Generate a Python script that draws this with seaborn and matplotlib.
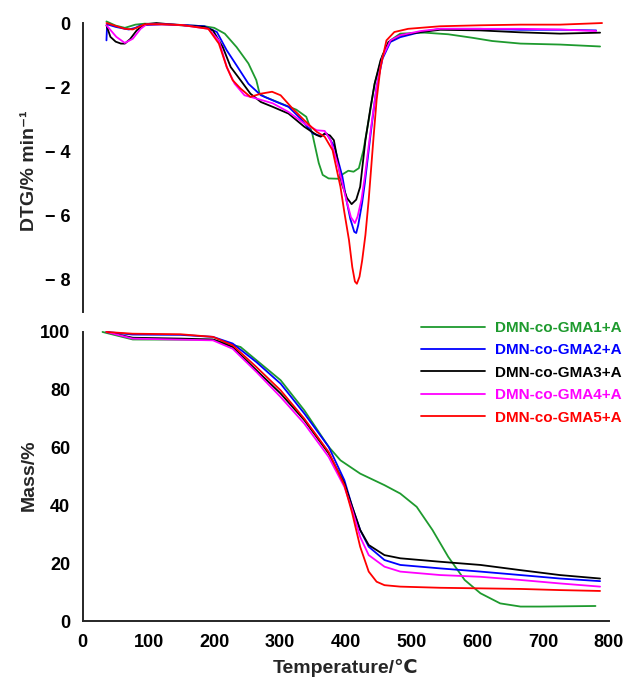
import numpy as np
import pandas as pd
import seaborn as sns
import matplotlib.pyplot as plt
from matplotlib.ticker import MultipleLocator, FixedLocator, FixedFormatter
from matplotlib.lines import Line2D

# ---------------- data ----------------
names = ["DMN-co-GMA1+A", "DMN-co-GMA2+A", "DMN-co-GMA3+A", "DMN-co-GMA4+A", "DMN-co-GMA5+A"]
colors = ["#1e9a2e", "#0000ff", "#000000", "#ff00ff", "#ff0000"]

# DTG (top panel)
dtg_t1 = [36, 50, 64, 80, 94, 120, 150, 185, 200, 216, 234, 252, 264, 269, 277, 301, 325, 340, 349, 359, 365, 374, 389, 396, 404, 412, 420, 427, 435, 444, 456, 468, 483, 520, 556, 593, 623, 666, 726, 787]
dtg_v1 = [0.05, -0.08, -0.15, -0.05, -0.02, -0.03, -0.06, -0.1, -0.15, -0.33, -0.75, -1.26, -1.78, -2.2, -2.3, -2.5, -2.7, -2.92, -3.43, -4.36, -4.73, -4.84, -4.85, -4.7, -4.6, -4.63, -4.52, -3.96, -3.02, -1.89, -1.0, -0.54, -0.33, -0.3, -0.35, -0.46, -0.56, -0.64, -0.67, -0.73]

dtg_t2 = [36, 37, 50, 64, 70, 80, 88, 120, 150, 185, 204, 219, 234, 252, 271, 295, 313, 331, 350, 362, 371, 383, 395, 401, 407, 413, 416, 419, 425, 429, 438, 447, 456, 468, 483, 514, 544, 605, 666, 726, 781]
dtg_v2 = [-0.54, -0.04, -0.12, -0.18, -0.2, -0.15, -0.07, -0.04, -0.06, -0.1, -0.28, -0.85, -1.32, -1.89, -2.25, -2.46, -2.61, -2.97, -3.44, -3.52, -3.44, -3.86, -4.79, -5.5, -6.1, -6.5, -6.54, -6.3, -5.6, -5.0, -3.44, -1.99, -1.11, -0.59, -0.44, -0.28, -0.18, -0.18, -0.21, -0.21, -0.23]

dtg_t3 = [36, 42, 50, 58, 64, 72, 82, 94, 112, 149, 185, 198, 213, 225, 240, 255, 271, 289, 313, 337, 356, 362, 368, 376, 382, 387, 394, 402, 409, 416, 422, 430, 438, 444, 453, 465, 483, 514, 544, 605, 666, 726, 787]
dtg_v3 = [-0.07, -0.43, -0.58, -0.64, -0.64, -0.5, -0.23, -0.04, 0.0, -0.07, -0.12, -0.23, -0.75, -1.37, -1.78, -2.2, -2.46, -2.61, -2.82, -3.23, -3.49, -3.54, -3.44, -3.5, -3.65, -4.2, -5.0, -5.45, -5.64, -5.5, -5.1, -3.65, -2.6, -1.89, -1.16, -0.59, -0.38, -0.28, -0.21, -0.23, -0.29, -0.33, -0.30]

dtg_t4 = [36, 51, 64, 76, 88, 97, 120, 150, 191, 207, 219, 231, 246, 264, 289, 313, 337, 356, 368, 377, 389, 395, 401, 408, 414, 418, 424, 429, 438, 447, 456, 468, 483, 514, 544, 605, 666, 726, 781]
dtg_v4 = [-0.07, -0.43, -0.62, -0.49, -0.18, -0.04, -0.04, -0.06, -0.18, -0.54, -1.37, -1.89, -2.25, -2.35, -2.5, -2.77, -3.13, -3.34, -3.36, -3.65, -4.48, -5.0, -5.51, -6.05, -6.23, -6.03, -5.5, -4.79, -3.34, -1.99, -1.06, -0.54, -0.38, -0.25, -0.18, -0.18, -0.18, -0.2, -0.25]

dtg_t5 = [36, 64, 76, 94, 120, 150, 191, 207, 219, 228, 240, 255, 271, 288, 301, 319, 337, 356, 368, 380, 392, 398, 405, 410, 414, 417, 421, 425, 430, 435, 442, 447, 453, 462, 474, 495, 544, 605, 666, 726, 790]
dtg_v5 = [0.0, -0.18, -0.2, -0.04, -0.04, -0.06, -0.18, -0.64, -1.37, -1.78, -2.04, -2.3, -2.2, -2.14, -2.25, -2.66, -3.03, -3.39, -3.54, -3.96, -5.1, -5.9, -6.76, -7.6, -8.05, -8.12, -7.9, -7.4, -6.6, -5.5, -3.65, -2.4, -1.37, -0.54, -0.28, -0.18, -0.1, -0.07, -0.05, -0.05, 0.0]

# Mass (bottom panel)
tg_t1 = [30, 76, 198, 240, 301, 337, 374, 392, 422, 459, 483, 508, 532, 556, 581, 605, 635, 666, 696, 780]
tg_m1 = [100, 97.4, 97.3, 94.8, 83.3, 72.9, 60.3, 55.6, 51.0, 47.0, 44.1, 39.5, 31.5, 22.2, 14.2, 9.6, 6.1, 5.0, 5.0, 5.2]

tg_t2 = [36, 76, 149, 198, 228, 264, 301, 337, 374, 398, 410, 422, 435, 459, 483, 544, 605, 666, 726, 787]
tg_m2 = [100, 99.1, 99.0, 98.3, 96.0, 89.6, 82.1, 71.8, 60.3, 48.7, 39.5, 31.5, 25.7, 21.1, 19.4, 18.2, 17.1, 15.9, 14.7, 13.8]

tg_t3 = [36, 76, 149, 198, 228, 264, 301, 337, 374, 398, 410, 422, 435, 459, 483, 544, 605, 666, 726, 787]
tg_m3 = [100, 98.0, 97.7, 97.4, 94.8, 86.8, 78.7, 69.5, 58.0, 47.6, 39.5, 31.5, 26.3, 22.8, 21.7, 20.5, 19.4, 17.6, 15.9, 14.7]

tg_t4 = [36, 76, 198, 228, 264, 301, 337, 374, 398, 410, 422, 435, 459, 483, 544, 605, 666, 726, 787]
tg_m4 = [100, 97.7, 97.1, 94.2, 86.2, 77.5, 68.3, 56.8, 46.4, 38.4, 29.1, 22.8, 18.8, 17.1, 15.9, 15.3, 14.2, 13.0, 11.9]

tg_t5 = [36, 76, 149, 198, 228, 264, 301, 337, 374, 398, 410, 422, 435, 447, 459, 483, 544, 605, 666, 726, 787]
tg_m5 = [100, 99.4, 99.2, 98.3, 95.4, 87.9, 79.8, 70.0, 58.5, 47.0, 37.2, 25.7, 17.1, 13.6, 12.4, 11.9, 11.5, 11.3, 11.1, 10.7, 10.4]

dtg_ticks = [0, -2, -4, -6, -8]
dtg_ticklabels = ["0", "\u2212 2", "\u2212 4", "\u2212 6", "\u2212 8"]
mass_ticks = [0, 20, 40, 60, 80, 100]
temp_ticks = [0, 100, 200, 300, 400, 500, 600, 700, 800]

# ---------------- build frames ----------------
dtg_sets = [(dtg_t1, dtg_v1), (dtg_t2, dtg_v2), (dtg_t3, dtg_v3), (dtg_t4, dtg_v4), (dtg_t5, dtg_v5)]
tg_sets = [(tg_t1, tg_m1), (tg_t2, tg_m2), (tg_t3, tg_m3), (tg_t4, tg_m4), (tg_t5, tg_m5)]
dtg_df = pd.concat([pd.DataFrame({"T": t, "v": v, "s": n}) for (t, v), n in zip(dtg_sets, names)])
tg_df = pd.concat([pd.DataFrame({"T": t, "v": v, "s": n}) for (t, v), n in zip(tg_sets, names)])

# ---------------- style ----------------
sns.set_theme(style="white")
plt.rcParams["font.family"] = ["Liberation Sans", "DejaVu Sans"]
plt.rcParams["font.weight"] = "bold"
plt.rcParams["axes.labelweight"] = "bold"

fig = plt.figure(figsize=(6.32, 6.85), dpi=100)
ax1 = fig.add_axes([0.131, 0.5445, 0.832, 0.4289])
ax2 = fig.add_axes([0.131, 0.0934, 0.832, 0.4262])

pal = dict(zip(names, colors))
sns.lineplot(data=dtg_df, x="T", y="v", hue="s", hue_order=names, palette=pal,
             estimator=None, sort=False, lw=1.3, ax=ax1, legend=False)
sns.lineplot(data=tg_df, x="T", y="v", hue="s", hue_order=names, palette=pal,
             estimator=None, sort=False, lw=1.3, ax=ax2, legend=False)

lw_sp = 1.4
for ax in (ax1, ax2):
    ax.set_xlim(0, 800)
    ax.spines["top"].set_visible(False)
    ax.spines["right"].set_visible(False)
    ax.spines["left"].set_linewidth(lw_sp)
    ax.spines["bottom"].set_linewidth(lw_sp)
    ax.tick_params(which="major", direction="out", length=6, width=lw_sp,
                   labelsize=13, pad=3, colors="black")
    ax.tick_params(which="minor", direction="out", length=3.5, width=lw_sp)

# top panel
ax1.spines["bottom"].set_visible(False)
ax1.set_ylim(-9, 0.15)
ax1.spines["left"].set_bounds(-9, 0)
ax1.yaxis.set_major_locator(FixedLocator(dtg_ticks))
ax1.yaxis.set_major_formatter(FixedFormatter(dtg_ticklabels))
ax1.yaxis.set_minor_locator(FixedLocator([-1, -3, -5, -7, -9]))
ax1.set_xticks([])
ax1.set_xlabel("")
ax1.set_ylabel("DTG/% min\u207b\u00b9", fontsize=14, fontweight="bold")
ax1.yaxis.set_label_coords(-0.085, 0.48)
for lbl in ax1.get_yticklabels():
    lbl.set_fontweight("bold")
    lbl.set_fontsize(13)

# bottom panel
ax2.set_ylim(0, 101)
ax2.spines["left"].set_bounds(0, 100)
ax2.spines["bottom"].set_bounds(0, 800)
ax2.set_yticks(mass_ticks)
ax2.set_xticks(temp_ticks)
ax2.xaxis.set_minor_locator(MultipleLocator(50))
ax2.set_xticklabels([str(t) for t in temp_ticks], fontweight="bold", fontsize=13)
ax2.set_yticklabels([str(t) for t in mass_ticks], fontweight="bold", fontsize=13)
ax2.set_xlabel("Temperature/\u2103", fontsize=14, fontweight="bold", labelpad=6)
ax2.set_ylabel("Mass/%", fontsize=14, fontweight="bold")
ax2.yaxis.set_label_coords(-0.085, 0.5)

handles = [Line2D([], [], color=c, lw=1.3) for c in colors]
leg = fig.legend(handles, names, loc="upper right", bbox_to_anchor=(622 / 632, (685 - 321) / 685),
                 frameon=False, fontsize=11, handlelength=4.2, handletextpad=0.7,
                 labelspacing=0.55, borderpad=0, borderaxespad=0)
for txt, c in zip(leg.get_texts(), colors):
    txt.set_color(c)
    txt.set_fontweight("bold")

fig.savefig("out.png", dpi=100)
